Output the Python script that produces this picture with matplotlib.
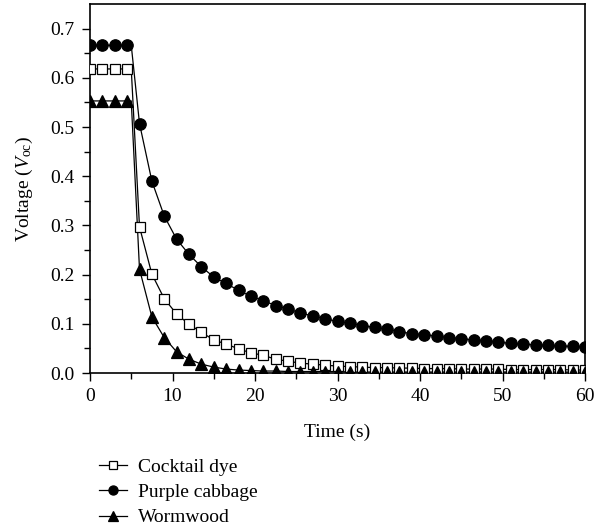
import numpy as np
import matplotlib
matplotlib.use("Agg")
import matplotlib.pyplot as plt
from matplotlib.lines import Line2D

plt.rcParams['font.family'] = ['Liberation Serif', 'DejaVu Serif']
plt.rcParams['mathtext.fontset'] = 'custom'
plt.rcParams['mathtext.rm'] = 'Liberation Serif'
plt.rcParams['mathtext.it'] = 'Liberation Serif:italic'

# ---- data ----
time = [0, 1.5, 3, 4.5, 6, 7.5, 9, 10.5, 12, 13.5, 15, 16.5, 18, 19.5, 21, 22.5,
        24, 25.5, 27, 28.5, 30, 31.5, 33, 34.5, 36, 37.5, 39, 40.5, 42, 43.5, 45,
        46.5, 48, 49.5, 51, 52.5, 54, 55.5, 57, 58.5, 60]
knee_time = 5.0

cocktail = [0.618, 0.618, 0.618, 0.618, 0.297, 0.201, 0.151, 0.120, 0.099, 0.083,
            0.067, 0.059, 0.049, 0.041, 0.036, 0.028, 0.024, 0.020, 0.018, 0.016,
            0.014, 0.013, 0.012, 0.011, 0.011, 0.010, 0.010, 0.009, 0.009, 0.009,
            0.008, 0.008, 0.008, 0.008, 0.007, 0.007, 0.007, 0.007, 0.007, 0.006,
            0.006]
cabbage = [0.666, 0.666, 0.666, 0.666, 0.507, 0.390, 0.319, 0.272, 0.241, 0.216,
           0.195, 0.182, 0.168, 0.156, 0.147, 0.137, 0.130, 0.122, 0.116, 0.110,
           0.105, 0.101, 0.096, 0.093, 0.089, 0.084, 0.080, 0.078, 0.075, 0.072,
           0.070, 0.067, 0.066, 0.063, 0.060, 0.059, 0.057, 0.056, 0.055, 0.054,
           0.053]
wormwood = [0.553, 0.553, 0.553, 0.553, 0.211, 0.114, 0.072, 0.043, 0.028, 0.018,
            0.012, 0.008, 0.006, 0.005, 0.004, 0.004, 0.003, 0.003, 0.003, 0.003,
            0.003, 0.002, 0.002, 0.002, 0.002, 0.002, 0.002, 0.002, 0.002, 0.002,
            0.002, 0.002, 0.002, 0.002, 0.002, 0.002, 0.002, 0.002, 0.002, 0.002,
            0.002]

labels = ["Cocktail dye", "Purple cabbage", "Wormwood"]
xticks = [0, 10, 20, 30, 40, 50, 60]
yticks = [0.0, 0.1, 0.2, 0.3, 0.4, 0.5, 0.6, 0.7]

# ---- figure ----
W, H = 602, 531
FS = 14
fig = plt.figure(figsize=(W / 100, H / 100), dpi=100)
ax = fig.add_axes([90 / W, 1 - 373 / H, 495 / W, 369 / H])

styles = [
    dict(marker='s', mfc='white', mec='black', ms=7.0, mew=0.9),
    dict(marker='o', mfc='black', mec='black', ms=8.2, mew=0.9),
    dict(marker='^', mfc='black', mec='black', ms=8.6, mew=0.9),
]
series = [cocktail, cabbage, wormwood]

handles = []
for y, st, lab in zip(series, styles, labels):
    t = np.array(time)
    v = np.array(y)
    lt = np.concatenate([t[:4], [knee_time], t[4:]])
    lv = np.concatenate([v[:4], [v[3]], v[4:]])
    ax.plot(lt, lv, color='black', lw=0.9, zorder=2)
    ax.plot(t, v, ls='none', zorder=3, **st)
    handles.append(Line2D([0], [0], color='black', lw=0.9, **st))

ax.set_xlim(0, 60)
ax.set_ylim(0, 0.75)
ax.set_xticks(xticks)
ax.set_xticklabels([str(x) for x in xticks])
ax.set_yticks(yticks)
ax.set_yticklabels([f"{y:.1f}" for y in yticks])
ax.set_xticks(np.arange(5, 60, 10), minor=True)
ax.set_yticks(np.arange(0.05, 0.75, 0.1), minor=True)

ax.tick_params(axis='both', which='major', direction='out', length=6, width=1,
               labelsize=FS, pad=5)
ax.tick_params(axis='both', which='minor', direction='out', length=4, width=1)
for sp in ax.spines.values():
    sp.set_linewidth(1.2)

ax.set_xlabel("Time (s)", fontsize=FS, labelpad=13)
ax.set_ylabel(r"Voltage ($V_{\mathrm{oc}}$)", fontsize=FS, labelpad=11)

fig.legend(handles, labels, loc='upper left',
           bbox_to_anchor=(99 / W, 1 - 458 / H), frameon=False,
           fontsize=FS, handlelength=1.45, handletextpad=0.55,
           labelspacing=0.4, borderpad=0, borderaxespad=0, markerscale=0.8)

fig.savefig("out.png", dpi=100)
